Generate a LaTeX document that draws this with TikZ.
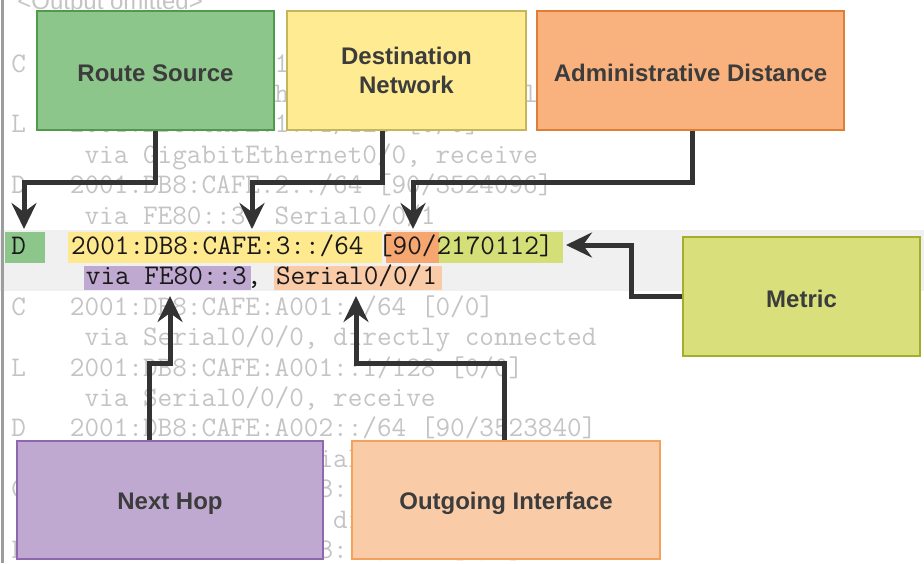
\documentclass[tikz,border=0pt]{standalone}
\usepackage{fontspec}
\newfontfamily\labelfont{Liberation Sans}
\usetikzlibrary{arrows.meta,fit,positioning}

\definecolor{rsfill}{HTML}{8DC68B}
\definecolor{rsline}{HTML}{4F9A4B}
\definecolor{dnfill}{HTML}{FFEB91}
\definecolor{dnline}{HTML}{C6B55A}
\definecolor{adfill}{HTML}{F9B27D}
\definecolor{adline}{HTML}{E07E35}
\definecolor{mtfill}{HTML}{D9E07B}
\definecolor{mtline}{HTML}{A3AE2A}
\definecolor{nhfill}{HTML}{C0A9D1}
\definecolor{nhline}{HTML}{8E67AE}
\definecolor{oifill}{HTML}{FACBA7}
\definecolor{oiline}{HTML}{F3A15D}
\definecolor{hlorange}{HTML}{F6A66F}
\definecolor{hllime}{HTML}{D5DF78}
\definecolor{hlyellow}{HTML}{FFE98F}
\definecolor{bandgray}{HTML}{F0F0F0}
\definecolor{fadegray}{HTML}{C4C4C4}
\definecolor{labelgray}{HTML}{3C3C3C}
\definecolor{arrowgray}{HTML}{333333}

\tikzset{
  infobox/.style={draw, line width=1pt, text=labelgray, align=center, inner sep=0pt,
    font=\labelfont\bfseries\fontsize{12}{14.5}\selectfont,
    execute at begin node={\rule{0pt}{11.6pt}}},
  bgtext/.style={anchor=base west, inner sep=0pt, text=fadegray,
    font=\ttfamily\fontsize{14.2}{17}\selectfont},
  codetext/.style={bgtext, text=black!90},
  hl/.style={fill=#1, draw=none, inner sep=0pt},
  pointer/.style={draw=arrowgray, line width=2.5pt,
    -{Stealth[length=13pt,width=12.5pt,inset=4.5pt]}}
}

\begin{document}
\begin{tikzpicture}[x=0.5pt,y=-0.5pt]
    \useasboundingbox (0,0) rectangle (924,563);
    %% Listing
    \fill[bandgray] (0,230) rectangle (924,291);
    \draw[fadegray!80!black, line width=1.5pt] (2,0) -- (2,563);
    \node[bgtext, font=\labelfont\fontsize{12}{14}\selectfont] (omit) at (17,9) {<Output omitted>};
    \foreach \txt [count=\k] in {
        {C~~~2001:DB8:CAFE:1::/64 [0/0]},
        {~~~~~via GigabitEthernet0/0, directly connected},
        {L~~~2001:DB8:CAFE:1::1/128 [0/0]},
        {~~~~~via GigabitEthernet0/0, receive},
        {D~~~2001:DB8:CAFE:2::/64 [90/3524096]},
        {~~~~~via FE80::3, Serial0/0/1}}
        \node[bgtext] (line\k) at (11,{254.5+(\k-7)*30.4}) {\txt};
    \foreach \txt [count=\k from 9] in {
        {C~~~2001:DB8:CAFE:A001::/64 [0/0]},
        {~~~~~via Serial0/0/0, directly connected},
        {L~~~2001:DB8:CAFE:A001::1/128 [0/0]},
        {~~~~~via Serial0/0/0, receive},
        {D~~~2001:DB8:CAFE:A002::/64 [90/3523840]},
        {~~~~~via FE80::3, Serial0/0/1},
        {C~~~2001:DB8:CAFE:A003::/64 [0/0]},
        {~~~~~via Serial0/0/1, directly connected},
        {L~~~2001:DB8:CAFE:A003::1/128 [0/0]}}
        \node[bgtext] (line\k) at (11,{254.5+(\k-7)*30.4}) {\txt};
    %% Highlights
    \node[hl=rsfill, fit={(5,232) (45,263)}] (codeHL) {};
    \node[hl=hlyellow, fit={(68,232) (382,263)}] (destHL) {};
    \node[hl=hlorange, fit={(386,232) (439,263)}] (adHL) {};
    \node[hl=hllime, fit={(439,232) (563,263)}] (metricHL) {};
    \node[hl=nhfill, fit={(84,266) (251,290)}] (hopHL) {};
    \node[hl=oifill, fit={(274,266) (442,290)}] (ifaceHL) {};
    \node[codetext] (code) at (11,254.5) {D};
    \node[codetext] (route) at (70.6,254.5) {2001:DB8:CAFE:3::/64 [90/2170112]};
    \node[codetext] (via) at (85.5,284.9) {via FE80::3, Serial0/0/1};
    %% Boxes
    \node[infobox, fill=rsfill, draw=rsline, minimum width=118.5pt, minimum height=59.5pt] (src) at (155.5,70.5) {Route Source};
    \node[infobox, fill=dnfill, draw=dnline, minimum width=119.5pt, minimum height=59.5pt] (dest) at (406.5,70.5) {Destination\\Network};
    \node[infobox, fill=adfill, draw=adline, minimum width=153.5pt, minimum height=59.5pt] (ad) at (690.5,70.5) {Administrative Distance};
    \node[infobox, fill=mtfill, draw=mtline, minimum width=118.5pt, minimum height=59.5pt] (metric) at (801.5,296.5) {Metric};
    \node[infobox, fill=nhfill, draw=nhline, minimum width=153pt, minimum height=59pt] (hop) at (170,500) {Next Hop};
    \node[infobox, fill=oifill, draw=oiline, minimum width=154pt, minimum height=59pt] (iface) at (506,500) {Outgoing Interface};
    %% Arrows
    \coordinate (srcTip) at (24,229);
    \coordinate (destTip) at (252,229);
    \coordinate (adTip) at (413,229);
    \coordinate (metricTip) at (566,245);
    \coordinate (hopTip) at (170,296);
    \coordinate (ifaceTip) at (356,296);
    \draw[pointer] (src.south) -- ++(0,51) -| (srcTip);
    \draw[pointer] ([xshift=-12.25pt]dest.south) -- ++(0,51) -| (destTip);
    \draw[pointer] ([xshift=0.75pt]ad.south) -- ++(0,51) -| (adTip);
    \draw[pointer] (metric.west) -- ++(-51,0) |- (metricTip);
    \draw[pointer] ([xshift=-10.5pt]hop.north) -- ++(0,-77) -| (hopTip);
    \draw[pointer] ([xshift=-1pt]iface.north) -- ++(0,-77) -| (ifaceTip);
\end{tikzpicture}
\end{document}
